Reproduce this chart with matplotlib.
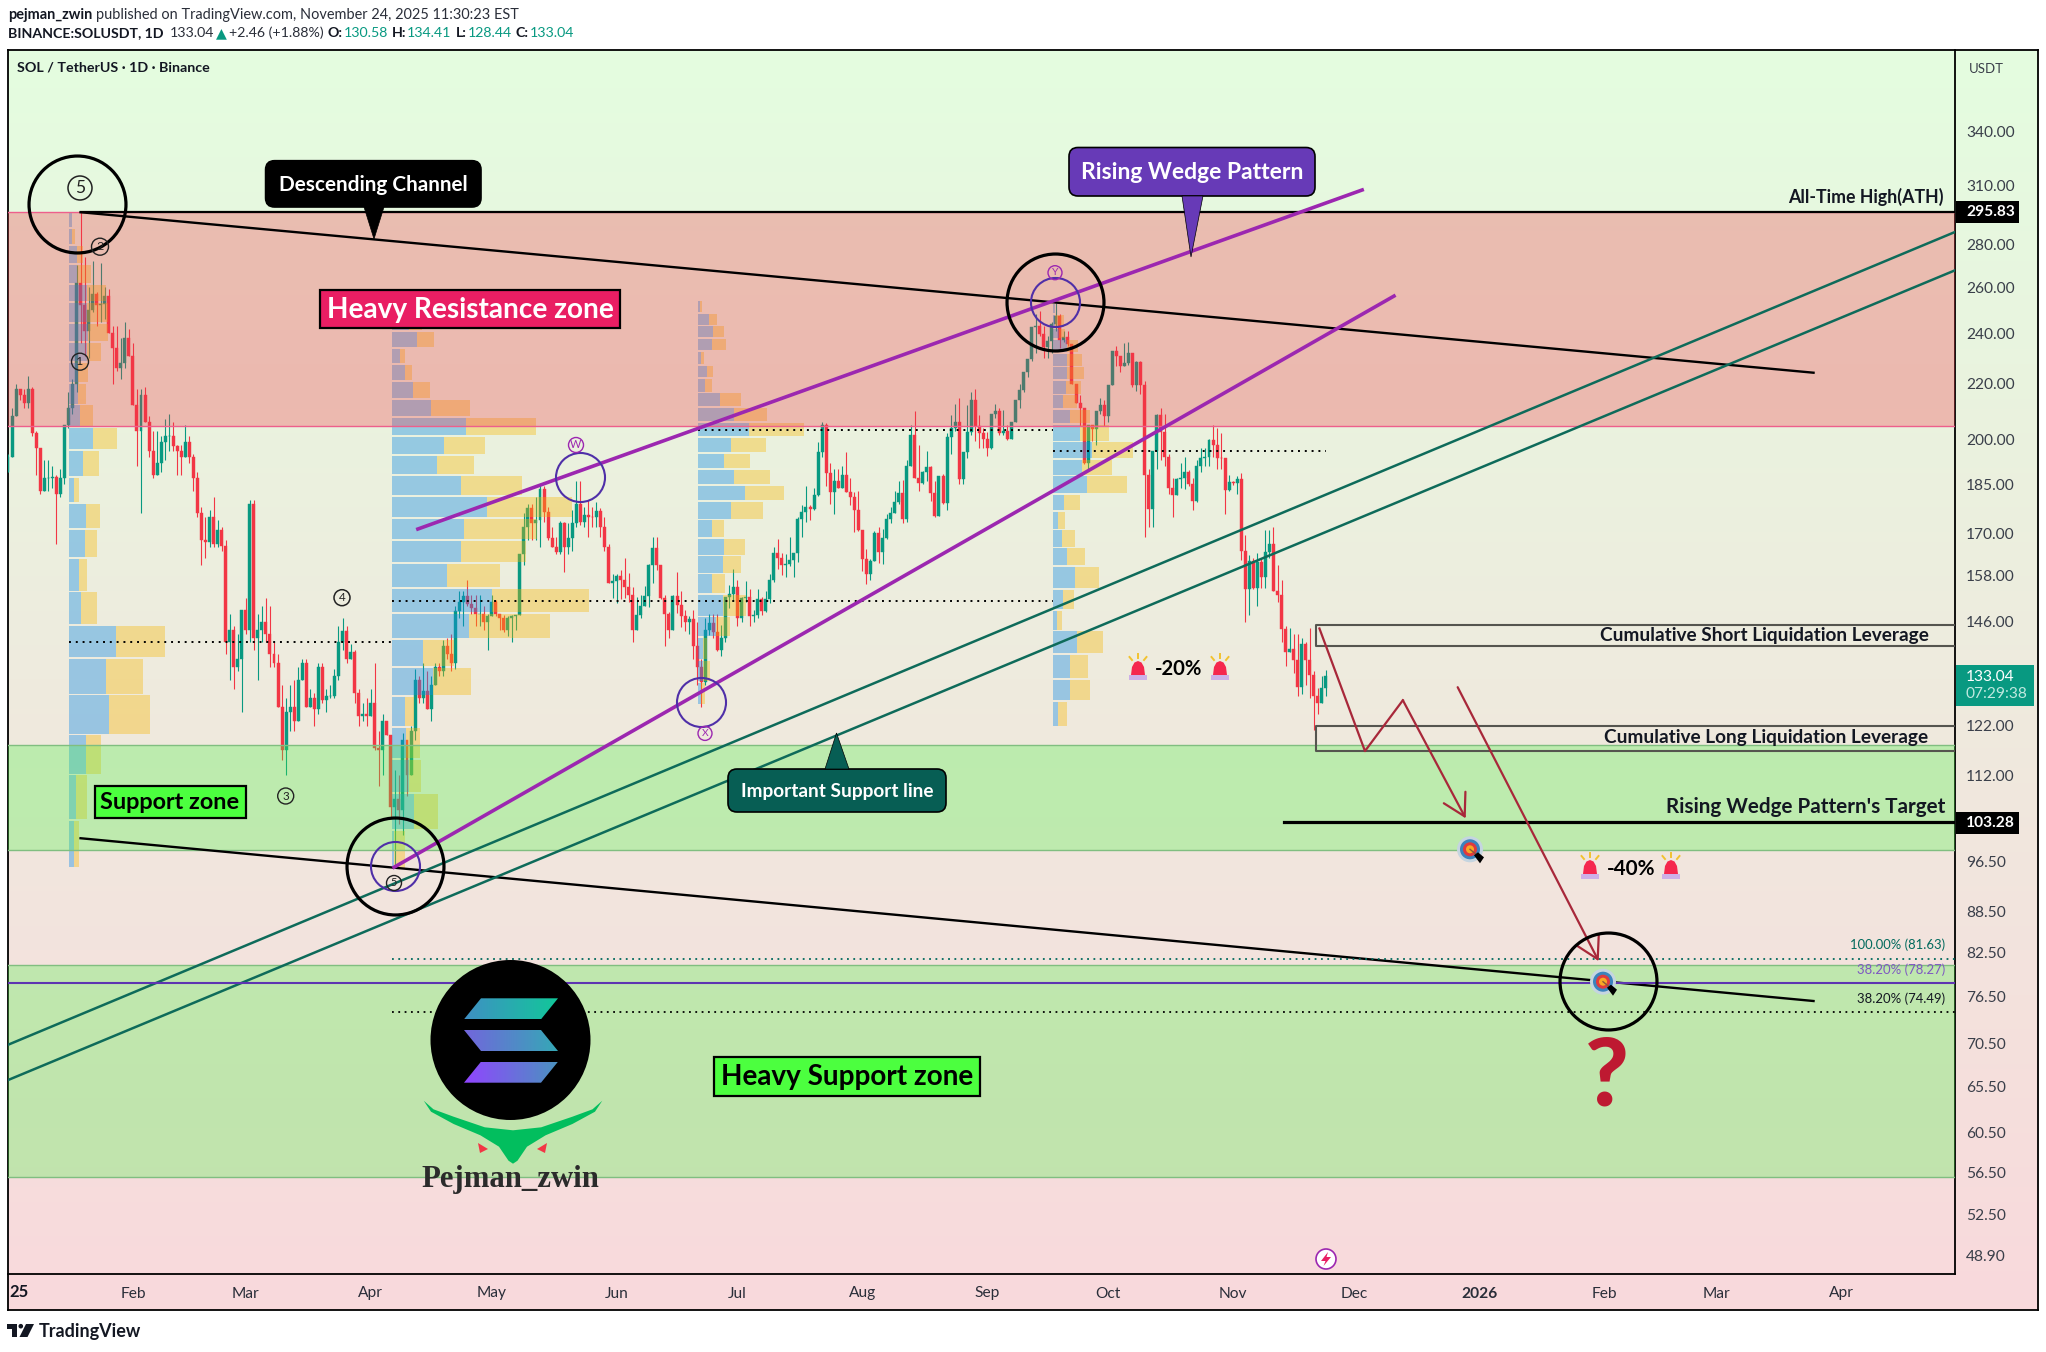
import numpy as np
import matplotlib
matplotlib.use("Agg")
import matplotlib.pyplot as plt
from matplotlib.patches import Circle, Rectangle, Polygon, FancyBboxPatch
from matplotlib.colors import LinearSegmentedColormap
from matplotlib.ticker import NullLocator

plt.rcParams['font.family'] = ['Lato', 'DejaVu Sans']

# ---- daily candles, 2025-01-01 onward (day index = position) ----
closes = [
 194,208,218,216,213,218,202,197,183,187,
 187,187.5,182,187,205,211,220,262,252,241,
 250,257,252,252.5,256,240,234,226,228,238,
 231,212,203,216,206,196,188,192,199,201,
 201,197.6,196,194,199,194,187,176,168,167.5,
 175,167,171,166.5,141,144,135,137,149,144,
 179,142,144,146,143,138,136,126,117,125,
 126,123,132,136,126,128,125.5,135,127.5,128.5,
 128.5,133,141,143.6,137,138.5,129,124,124.5,124,
 127,117.5,117,123,120,106,107.6,105.5,119,112,
 121,132,128,129.5,125.5,131,135,134,140,138,
 136,148.7,151,152.5,150.5,149.5,148,148,146,147.5,
 151,148,147,144,147,147.5,147.7,164,172,177.7,
 173,174,183.5,176.5,168.6,166,164.6,173,166,168.6,
 173,179,173.5,175.5,175,174.8,176.6,171.8,166,156,
 156.6,158,157,155,153,144,147.8,150,152.6,161,
 165.8,161,152,148,144,152.6,150.3,147.4,146,146.8,
 140,135,131.5,143.9,145.7,143.5,139,142,152.4,153.2,
 155,147,152,152.4,147.5,147.7,151.8,148.6,151.8,156.8,
 164.5,163,161,161.3,162.4,164.3,174.2,176.3,177.8,177.4,
 181.6,195.5,205,188.6,182.5,186,184,188,182.5,181,
 177,171,162.7,158.4,162,170.2,164.6,168.8,174.3,176,
 179.4,182.2,174.2,191,201.4,186.9,185.4,189,190.5,182.4,
 175.2,187.7,179.3,200.7,203.9,205.9,186.7,195.6,202.6,214,
 204.5,202,200.2,197,208.9,210,202,203,200,206.2,
 213.9,217.7,224.6,229.5,242.5,243,239.8,234.6,237,244,
 247.5,237.5,238.6,235.7,220,213,211,192,205,203.5,
 210,212,208,219.6,233,231,227,228.2,232,219.5,
 228.4,219.6,187.9,177.4,196,208.5,202.4,193.9,184,181.6,
 186.7,187,189,185,179.7,191,193.5,194,199.8,198,
 193.6,193.5,183.3,185.9,185.5,186.8,165,154.5,162.2,154.7,
 161.7,157.6,164.7,167,154,153,144.2,138.5,139.3,136.7,
 130.4,140.4,136.7,133.2,128.4,126.9,130.3,133.04]
highs = [
 195,211,220,218,218,223,219,203,197,193,
 193,191,188,190,205,217,222,270,296,274,
 260,272,258,271,260,259,243,243,238,245,
 242,236,218,218,219,208,203,203,201,207,
 209,206,198,198,205,201,195,189,178,175,
 177,181,174,172,168,148,145,143,149,152,
 180,180,148,150,152,150,141,138,131,128,
 131,132,135,137,137,130,129,136,136,130,
 131,134.5,145,147,145,140.5,139,130,127,128,
 130,136,121,124.5,123,120,113,112,120.5,119,
 122,134.5,133,136,134,133,136,136,141.5,142,
 143,150,154,154,157,153,153,153,150,148,
 153,151.5,148,147.6,147.5,147.7,147.8,164,176,179,
 179,181,185,184.5,178,172,169,173.7,173.5,173,
 177,186,186,178,180,178,179.5,177.6,175,167,
 158.5,158.5,159.7,163,158.7,155,152.4,153,155.4,161.4,
 169,169,161,153,148.4,153,159,154,149,147.5,
 149,146,137,147,148,148,148,145.2,152.4,155.6,
 160,157,152.4,156.7,154.5,149,154.5,152.4,154,158.4,
 166,168.4,164.5,164.2,168.9,164.5,174.9,178.4,184.4,178.6,
 184,199,206,205.5,192,190,190,191,195.5,187,
 182.5,183,171,165.6,162.7,170.8,172,171.4,175.8,178,
 183,186,186.5,193,205,210,198,189.4,196,191,
 186,187.7,188.4,202,208.4,212.7,214.8,195.6,212.3,217,
 218,208.4,204,202.4,208.9,212.6,211,210.5,205,206.2,
 214,220,224.6,229.5,242.5,248,249.6,243,239,245,
 253,248,241,241,235.7,220,216,211,205,205,
 210,214.6,214,219.6,233,235,231,236,236.6,232,
 229,229,221,190,196,209,211,209,195,187,
 186.9,192,194,189.5,187,193,197,197,200,205,
 204,202,193.5,188,186,187.6,188.7,169.5,163.7,163,
 164.5,163,171,171,171.8,161,157,145,144.5,142.9,
 143,142,141,144.5,134,130.3,133,134.41]
lows = [
 189,194,208,214,211,211,201,188,182,183,
 183,184,167,181,185,204,209,217,236,231,
 230,249,243,245,246,240,220,225,222,226,
 231,212,191,176,206,194,187,188,189,193,
 196,196,188,188,194,192,183,175,161,163,
 166,166,166,165,138,132,130,134,125,143,
 141,139,132,141,141,135,135,126,115,112,
 121,121,123,132,126,126,122,124.5,127,125,
 128,128,132,139,136,137,127,122,123,122,
 124,117,110,112,120,104,95.5,103,101,108,
 112,119,127,127,125.5,123,131,133,133,137,
 134,134.5,147,145,150,148,145,145,144,139,
 147.5,147.5,144,143.5,142.5,141,144,147.7,161,168,
 168,168,166,173.5,168,166,164,164,159,164,
 165,172,172.5,172,169,172,172,169,165,156,
 152,150.7,151.7,152,151,141,144,147,150,149.8,
 156,159.6,151.7,140,142,144,148.3,144.7,143.6,143,
 137,131,126,131,142.7,142,138.7,137.5,141,149.6,
 151.3,145,146,151,145,146,147,147.7,148.5,150.7,
 156.4,160,158.2,157.8,160.8,157.8,161.8,169.1,173.3,174,
 177,181.4,194,184.5,179,175.8,184,184,182.5,178.5,
 170.3,170.8,159.4,155.8,156.8,162,161.5,161.3,168.3,173,
 176,179,173,173.5,191,187,183,185,186,179.7,
 175,175.2,179,177,195,203,185,185,193.6,201.5,
 199.5,197,197,194.3,196.6,207.3,201.6,201.5,199.7,200,
 206,211,217,222.6,229,232,239,230,230,232,
 241,234,236.7,235,220,213,204.5,191.6,190,199.5,
 198,209,204.5,206,219.6,227,224.5,227,227.5,219,
 217.5,216.3,169,172,172,190,193,191,182,175,
 181.6,184,183.5,184.5,177,179.5,189,191,191,194,
 190,190,175.8,183,184.8,182,162.5,146,147.6,154.5,
 150,154.7,154.7,163,154,151,141,135.2,138.5,133.6,
 128.4,128.8,131,128,121.2,124.6,126.9,128.44]
first_open = 189

# ---- volume profiles: price edges, up-volume and total (in days of width) ----
vp_a_start = 15.1
vp_a_edges = [296,287.6,279,270,261,253,244,236,228,220,212,204,196,187,179,171,162.7,153.6,145,137,128.6,120,112,103.6,95.3]
vp_a_up = [.66,.74,2.07,2.07,4.55,4.55,4.8,4.55,2.3,2.23,2.73,6.04,3.47,1.24,4.2,4,2.48,3,11.66,9.2,9.9,4.2,1.7,1.27]
vp_a_total = [.66,1.5,3.56,5.46,9.18,9.6,9.6,7.94,4.8,4.2,5.96,11.9,7.44,2.48,7.7,6.95,4.47,6.95,23.8,18.4,20.1,7.94,4.47,2.48]

vp_b_start = 95.3
vp_b_edges = [250,240.6,233.7,227.3,220.8,214,207.5,200.8,194.3,187.7,181,174.3,167.8,161.3,154.5,148,141.5,134.9,128.3,121.6,115,108.5,101.8,95.2]
vp_b_up = [4.3,6.1,2,3.2,5.2,9.6,18.4,13,11.2,17.2,23.6,17.8,17.2,13.6,24.7,19.2,7.6,10.2,3.2,3.5,4.3,5.4,.55]
vp_b_total = [7.4,10.3,3.2,5,9.4,19.4,35.7,23,20.4,32.2,44.7,36,33.3,26.8,48.8,39.3,15.4,19.6,5.4,7,7.2,11.4,3.2]

vp_c_start = 171.2
vp_c_edges = [253.8,248.2,243,237.8,232.4,227,221.9,216.5,211.1,205.8,200.5,195,189.8,184.6,179.4,173.9,168.4,163.4,158.4,152.9,147.1,141.9,136.5,131.4,126.3]
vp_c_up = [.55,2.77,3.77,3.54,.78,2.2,1.77,5.54,9,12.65,8.2,6.45,8.9,11.7,8.2,3.5,6.45,6.2,3.5,6.2,4.5,1.24,1.24,.74]
vp_c_total = [1,4.76,6.53,7,1.55,3.77,3.54,10.74,17.2,26.2,16.9,12.9,17.9,21.3,16.1,6.45,11.7,10.7,6.7,11.9,7.9,2.2,3,1.74]

vp_d_start = 259.3
vp_d_edges = [252.7,247.9,242,237.4,231.7,226.4,221.3,215.7,210.3,204.9,198.9,192.9,187.6,181.8,176.5,170.9,165.7,160.4,154.3,148.8,143.6,137.9,132,127.1,121.6]
vp_d_up = [.5,.5,1.5,3.47,3.47,3.47,3.2,2.5,4.2,6.7,9.7,7.2,8.4,2.7,1.24,2.2,3.47,5.46,2.5,1,5.96,4.2,4.2,1.24]
vp_d_total = [.6,2.7,3,6.2,7.2,7.7,7,6,9.2,13.9,19.85,14.6,18.4,6.7,3,5.46,7.94,11.4,5.2,2.2,12.4,8.7,9.2,3.47]

# ---- levels and trend lines (day, price) ----
ath = 295.83
resistance_zone = (204.6, 295.83)
support_zone = (98.5, 118.1)
heavy_support_zone = (56.0, 80.8)
target_level = 103.28
fib_levels = [81.63, 78.27, 74.49]
channel_top = ([18, 448], [295.83, 224.3])
channel_bottom = ([18, 448], [100.5, 75.9])
wedge_upper = ([101.7, 336], [171.3, 307.4])
wedge_lower = ([95.8, 343.9], [95.6, 256])
support_line_1 = ([-0.4, 483.2], [70.3, 286])
support_line_2 = ([-0.4, 483.2], [66.15, 267.7])
poc_lines = [(15.1, 95.5, 141), (95.3, 259.3, 151.3), (171.2, 259.3, 203.2), (259.3, 327, 196)]
short_box = (324.6, 140.1, 145.2)
long_box = (324.6, 116.8, 122)
path_one = ([325.4, 336.7, 346.1, 361.7], [144.3, 116.8, 127.5, 104])
path_two = ([359.7, 394.7], [130.4, 81.3])
big_circles = [(17, 300), (96, 95.8), (259.9, 253.4), (396.9, 78.5)]
small_circles = [(141.9, 187.3), (171.9, 127.2), (259.9, 253.4), (96, 95.8)]

# ---- axis labels ----
y_ticks = [340,310,280,260,240,220,200,185,170,158,146,122,112,96.5,88.5,82.5,76.5,70.5,65.5,60.5,56.5,52.5,48.9]
y_tick_labels = ['340.00','310.00','280.00','260.00','240.00','220.00','200.00','185.00','170.00','158.00','146.00',
                 '122.00','112.00','96.50','88.50','82.50','76.50','70.50','65.50','60.50','56.50','52.50','48.90']
x_ticks = [31,59,90,120,151,181,212,243,273,304,334,365,396,424,455]
x_tick_labels = ['Feb','Mar','Apr','May','Jun','Jul','Aug','Sep','Oct','Nov','Dec','2026','Feb','Mar','Apr']

W, H = 2046, 1352
GREEN, RED = '#089981', '#F23645'
fig = plt.figure(figsize=(W/100, H/100), dpi=100, facecolor='white')
def rect_px(x0, y0, x1, y1):
    return [x0/W, 1-y1/H, (x1-x0)/W, (y1-y0)/H]

# background panel with vertical gradient and outer frame
bg = fig.add_axes(rect_px(7.6, 49.6, 2038, 1310), zorder=0)
top_c = np.array([228,253,224])/255; bot_c = np.array([249,217,220])/255
t = np.linspace(0, 1, 256)[:, None, None]
bg.imshow(top_c[None, None, :]*(1-t)+bot_c[None, None, :]*t, aspect='auto', extent=(0, 1, 0, 1))
bg.set_xticks([]); bg.set_yticks([])
for s in bg.spines.values():
    s.set_linewidth(1.3); s.set_color('black')

ax = fig.add_axes(rect_px(7.6, 49.6, 1955, 1274), zorder=5)
ax.patch.set_alpha(0)
ax.set_yscale('log')
ax.set_xlim(-0.1, 483.1)
ax.set_ylim(47.4, 391.6)
ax.yaxis.tick_right()
ax.set_yticks(y_ticks); ax.set_yticklabels(y_tick_labels)
ax.yaxis.set_minor_locator(NullLocator())
ax.set_xticks(x_ticks); ax.set_xticklabels(x_tick_labels)
ax.tick_params(axis='y', length=0, pad=8, labelsize=11.2, labelcolor='#3a3f4a')
ax.tick_params(axis='x', length=0, pad=9, labelsize=11.2, labelcolor='#2a2e39')
for lab, txt in zip(ax.get_xticklabels(), x_tick_labels):
    if txt == '2026':
        lab.set_fontweight('bold')
for k in ('top', 'left'):
    ax.spines[k].set_visible(False)
for k in ('right', 'bottom'):
    ax.spines[k].set_linewidth(1.3)

# candles
c = np.array(closes, float); h = np.array(highs, float); l = np.array(lows, float)
o = np.r_[first_open, c[:-1]]
days = np.arange(len(c))
cols = [GREEN if ci >= oi else RED for ci, oi in zip(c, o)]
ax.vlines(days, l, h, colors=cols, lw=0.8, zorder=2)
ax.bar(days, np.abs(c-o), bottom=np.minimum(o, c), width=0.74, color=cols, edgecolor=cols, lw=0.3, zorder=2.1)

# volume profiles (translucent, over the candles, under the zones)
def profile(start, edges, up, total):
    e = np.array(edges, float)
    hi, lo = e[:-1], e[1:]*1.003
    up = np.array(up); total = np.array(total)
    ax.barh(lo, up, height=hi-lo, left=start, align='edge', color='#178EE8', alpha=.4, lw=0, zorder=3)
    ax.barh(lo, total-up, height=hi-lo, left=start+up, align='edge', color='#F8B700', alpha=.36, lw=0, zorder=3)
profile(vp_a_start, vp_a_edges, vp_a_up, vp_a_total)
profile(vp_b_start, vp_b_edges, vp_b_up, vp_b_total)
profile(vp_c_start, vp_c_edges, vp_c_up, vp_c_total)
profile(vp_d_start, vp_d_edges, vp_d_up, vp_d_total)

# zones
ax.axhspan(*resistance_zone, color=RED, alpha=.3, lw=0, zorder=4)
ax.axhspan(*support_zone, color='#48F542', alpha=.3, lw=0, zorder=4)
ax.axhspan(*heavy_support_zone, color='#48F542', alpha=.3, lw=0, zorder=4)
ax.axhline(resistance_zone[0], color='#EE5F8C', lw=1, zorder=4.1)
ax.axhline(resistance_zone[1], color='#EE5F8C', lw=1, zorder=4.1)
for z in (support_zone, heavy_support_zone):
    ax.axhline(z[0], color='#80BE80', lw=1, zorder=4.1)
    ax.axhline(z[1], color='#80BE80', lw=1, zorder=4.1)

# dotted point-of-control lines
dot = (0, (1, 2.5))
for d0, d1, p in poc_lines:
    ax.plot([d0, d1], [p, p], color='black', lw=1.4, ls=dot, zorder=5)
# lines
ax.plot([18, 483.1], [ath, ath], color='black', lw=1.6, zorder=6)
ax.plot(*channel_top, color='black', lw=1.7, zorder=6)
ax.plot(*channel_bottom, color='black', lw=1.7, zorder=6)
ax.plot(*support_line_1, color='#0E6B5A', lw=1.8, zorder=6)
ax.plot(*support_line_2, color='#0E6B5A', lw=1.8, zorder=6)
ax.plot(*wedge_upper, color='#9C27B0', lw=2.6, zorder=6)
ax.plot(*wedge_lower, color='#9C27B0', lw=2.6, zorder=6)
ax.plot([316.7, 483.1], [target_level, target_level], color='black', lw=2.3, zorder=6)
ax.plot([95.3, 483.1], [fib_levels[0]]*2, color='#00695C', lw=1.3, ls=dot, zorder=6)
ax.plot([-0.1, 483.1], [fib_levels[1]]*2, color='#5E35B1', lw=1.5, zorder=6)
ax.plot([95.3, 483.1], [fib_levels[2]]*2, color='black', lw=1.3, ls=dot, zorder=6)

# liquidation boxes
for d0, lo, hi in (short_box, long_box):
    ax.plot([483.1, d0, d0, 483.1], [lo, lo, hi, hi], color='#55554F', lw=1.5, zorder=6)

# projected path arrows
ARW = '#A8283A'
ax.plot(path_one[0][:-1], path_one[1][:-1], color=ARW, lw=1.6, zorder=6)
for path in (path_one, path_two):
    ax.annotate('', xy=(path[0][-1], path[1][-1]), xytext=(path[0][-2], path[1][-2]),
                arrowprops=dict(arrowstyle='->,head_length=0.7,head_width=0.4', color=ARW, lw=1.6,
                                shrinkA=0, shrinkB=0, mutation_scale=22), zorder=6)

# circles (markers stay round on a log axis)
ax.plot(*zip(*big_circles), ls='', marker='o', ms=69.8, mfc='none', mec='black', mew=2.3, zorder=7)
ax.plot(*zip(*small_circles), ls='', marker='o', ms=35.3, mfc='none', mec='#4F2FA8', mew=1.5, zorder=7)

# ---- overlay in pixel coordinates for labels and ornaments ----
ov = fig.add_axes([0, 0, 1, 1], zorder=10)
ov.set_xlim(0, W); ov.set_ylim(H, 0); ov.axis('off'); ov.patch.set_alpha(0)
rend = fig.canvas.get_renderer()

def tx(x, y, s, width=None, size=11, color='black', weight='normal', ha='center', va='center', family=None, z=20, **kw):
    a = dict(fontsize=size, color=color, fontweight=weight, ha=ha, va=va, zorder=z)
    if family:
        a['family'] = family
    a.update(kw)
    t_ = ov.text(x, y, s, **a)
    if width:
        w_ = t_.get_window_extent(rend).width
        t_.set_fontsize(size*width/w_)
    return t_

def seq(x, y, parts, size):
    for s, col, wt, gap in parts:
        t_ = ov.text(x, y, s, fontsize=size, color=col, fontweight=wt, ha='left', va='center', zorder=20)
        x += t_.get_window_extent(rend).width + gap

# header
seq(8, 14.5, [('pejman_zwin', '#131722', 'bold', 4), ('published on TradingView.com, November 24, 2025 11:30:23 EST', '#2a2e39', 'normal', 0)], 10.45)
seq(8, 33, [('BINANCE:SOLUSDT, 1D', '#131722', 'bold', 6), ('133.04', '#2a2e39', 'normal', 2), ('▲', GREEN, 'normal', 2),
            ('+2.46 (+1.88%)', '#2a2e39', 'normal', 4), ('O:', '#131722', 'bold', 1), ('130.58', GREEN, 'normal', 4),
            ('H:', '#131722', 'bold', 1), ('134.41', GREEN, 'normal', 4), ('L:', '#131722', 'bold', 1), ('128.44', GREEN, 'normal', 4),
            ('C:', '#131722', 'bold', 1), ('133.04', GREEN, 'normal', 0)], 10.2)
tx(17, 68, 'SOL / TetherUS · 1D · Binance', width=193, color='#131722', weight='bold', ha='left')
tx(1986, 69, 'USDT', size=9.5, color='#3a3f4a')
tx(9, 1292, '25', size=12, weight='bold', color='#131722', ha='left')

# footer logo
ov.add_patch(Polygon([(7, 1324), (17, 1324), (17, 1337), (12, 1337), (12, 1328.5), (7, 1328.5)], fc='#131722', lw=0))
ov.add_patch(Circle((20.8, 1326.2), 2.3, fc='#131722', lw=0))
ov.add_patch(Polygon([(26, 1324), (34, 1324), (27.5, 1337), (19.5, 1337)], fc='#131722', lw=0))
tx(39, 1331.5, 'TradingView', width=102, weight='bold', color='#131722', ha='left')

# callouts
def callout(x0, y0, x1, y1, tip, base, fc, txt, tw, ec='black'):
    ov.add_patch(FancyBboxPatch((x0, y0), x1-x0, y1-y0, boxstyle='round,pad=0,rounding_size=9', fc=fc, ec=ec, lw=1.2, zorder=15))
    edge_y = y1 if tip[1] > y1 else y0
    ov.add_patch(Polygon([(base[0], edge_y), (base[1], edge_y), tip], fc=fc, ec=ec, lw=0.5, zorder=15))
    tx((x0+x1)/2, (y0+y1)/2+1, txt, width=tw, color='white', weight='bold')
callout(265.6, 160.7, 481, 207, (374, 239), (364, 384), 'black', 'Descending Channel', 189)
callout(1069, 147.5, 1315, 196, (1191, 257), (1182, 1203), '#673AB7', 'Rising Wedge Pattern', 222)
callout(728, 769, 946, 812, (836.5, 733), (825, 849), '#075E54', 'Important Support line', 192)

def label(x0, y0, x1, y1, fc, txt, tw, col):
    ov.add_patch(Rectangle((x0, y0), x1-x0, y1-y0, fc=fc, ec='black', lw=1.6, zorder=15))
    tx((x0+x1)/2, (y0+y1)/2+1, txt, width=tw, color=col, weight='bold')
label(320, 290, 620, 328, '#E91E63', 'Heavy Resistance zone', 287, 'white')
label(94.6, 785.7, 245.5, 818, '#4CFF3F', 'Support zone', 139, 'black')
label(714, 1057, 980, 1096, '#4CFF3F', 'Heavy Support zone', 252, 'black')

tx(1929, 636, 'Cumulative Short Liquidation Leverage', width=327, weight='bold', ha='right', color='#131722')
tx(1928, 738, 'Cumulative Long Liquidation Leverage', width=322, weight='bold', ha='right', color='#131722')
tx(1945, 807, "Rising Wedge Pattern's Target", width=279, weight='bold', ha='right', color='#131722')
tx(1944, 197, 'All-Time High(ATH)', width=156, weight='bold', ha='right', color='#131722')
tx(1945.6, 945, '100.00% (81.63)', width=95, ha='right', color='#00695C')
tx(1945.6, 970, '38.20% (78.27)', width=88, ha='right', color='#7E57C2')
tx(1945.6, 999, '38.20% (74.49)', width=88, ha='right', color='#131722')

# price tags
def tag(y0, y1, x1, fc):
    ov.add_patch(Rectangle((1956, y0), x1-1956, y1-y0, fc=fc, lw=0, zorder=18))
tag(201, 223, 2019, 'black'); tx(1966, 212, '295.83', size=11.2, color='white', weight='bold', ha='left')
tag(812, 834, 2019, 'black'); tx(1966, 823, '103.28', size=11.2, color='white', weight='bold', ha='left')
tag(665, 705.7, 2034, GREEN)
tx(1966, 677, '133.04', size=11.2, color='white', ha='left')
tx(1966, 694.5, '07:29:38', size=11.2, color='#BFE8DF', ha='left')

# elliott wave marks
def wave(x, y, r, s, col='#222222', lw=1.0):
    ov.add_patch(Circle((x, y), r, fc='none', ec=col, lw=lw, zorder=16))
    tx(x, y, s, size=r*1.05, color=col, z=16)
wave(80, 188, 12, '5', lw=1.1)
wave(100, 246.7, 8.5, '2')
wave(80, 361.7, 8.5, '1')
wave(342, 597.7, 8, '4', lw=1.1)
wave(285.7, 796, 8, '3')
wave(394, 883, 7.5, '5')
wave(576, 445, 7.5, 'W', col='#9C27B0')
wave(705, 733.4, 7, 'X', col='#9C27B0')
wave(1055, 272.7, 7, 'Y', col='#9C27B0')

# alarm icons
def bell(x, y):
    ov.add_patch(Polygon([(x-7, y+6), (x-6, y-2), (x-3.5, y-6.5), (x, y-8), (x+3.5, y-6.5), (x+6, y-2), (x+7, y+6)], fc='#F5274E', lw=0, zorder=16))
    ov.add_patch(Rectangle((x-9, y+6), 18, 4.5, fc='#CDB0E8', lw=0, zorder=16))
    for dx0, dy0, dx1, dy1 in ((0, -11, 0, -15), (-6, -9, -8.5, -12), (6, -9, 8.5, -12)):
        ov.plot([x+dx0, x+dx1], [y+dy0, y+dy1], color='#F2C230', lw=1.4, zorder=16)
for bx, by in ((1138, 669), (1220, 669), (1590, 868), (1671, 868)):
    bell(bx, by)
tx(1179, 669, '-20%', width=48, weight='bold')
tx(1631, 869, '-40%', width=49, weight='bold')

# targets
def target(x, y):
    for r, col in ((13, '#C5D5E0'), (10, '#3B83BD'), (7, '#E03A3E'), (4, '#F9A825')):
        ov.add_patch(Circle((x, y), r, fc=col, lw=0, zorder=16))
    ov.plot([x, x+11], [y, y+9], color='#8A5A3A', lw=1, zorder=16)
    ov.add_patch(Polygon([(x+4, y+6), (x+8, y+3), (x+14, y+8), (x+10, y+14)], fc='black', lw=0, zorder=16))
target(1470, 849.3)
target(1603, 981.7)
tx(1607, 1078, '?', size=68, color='#BE1931', weight='black')

# lightning mark
ov.add_patch(Circle((1326, 1259), 10, fc='white', ec='#9C27B0', lw=1.2, zorder=16))
ov.add_patch(Polygon([(1328, 1252), (1321, 1261), (1325.5, 1261), (1323.5, 1266), (1331, 1257), (1326.5, 1257)], fc='#E91E63', lw=0, zorder=17))

# solana logo and signature
ov.add_patch(Circle((510.5, 1040), 80, fc='black', lw=0, zorder=16))
def para(pts, c0, c1):
    cm = LinearSegmentedColormap.from_list('g', [c0, c1])
    xs = [p[0] for p in pts]; ys = [p[1] for p in pts]
    ext = (min(xs), max(xs), max(ys), min(ys))
    g = np.linspace(0, 1, 64)[None, :]
    im = ov.imshow(g, cmap=cm, extent=ext, aspect='auto', zorder=17)
    poly = Polygon(pts, transform=ov.transData, fc='none', lw=0)
    ov.add_patch(poly)
    im.set_clip_path(poly)
para([(481, 998.3), (558, 998.3), (541, 1019.3), (464, 1019.3)], '#3F90C4', '#12C79A')
para([(464, 1030), (541, 1030), (558, 1051), (481, 1051)], '#7266DC', '#35A8B6')
para([(481, 1061.7), (558, 1061.7), (541, 1082.7), (464, 1082.7)], '#9145FF', '#4A92C0')
ov.set_xlim(0, W); ov.set_ylim(H, 0)
sw_l = [(423.7, 1100.7), (431, 1111.7), (453.6, 1124), (480.4, 1135.3), (499, 1146.7), (508.5, 1160.7), (513, 1163.7)]
sw_u = [(513, 1130.3), (484.8, 1127.3), (453.6, 1116.7), (433.5, 1109.3)]
pts = sw_l + [(2*513-x, y) for x, y in sw_l[::-1][1:]] + [(2*513-x, y) for x, y in sw_u[::-1][:-1]] + sw_u
ov.add_patch(Polygon(pts, fc='#02BE5E', lw=0, zorder=15.5))
ov.add_patch(Polygon([(478, 1143), (488, 1149), (480, 1153)], fc='#F23645', lw=0, zorder=16))
ov.add_patch(Polygon([(547, 1143), (537, 1149), (545, 1153)], fc='#F23645', lw=0, zorder=16))
tx(510.5, 1179, 'Pejman_zwin', width=177, weight='bold', color='#2b2b2b', family='Liberation Serif')

assert len(closes) == len(highs) == len(lows)
fig.savefig('out.png', dpi=100)
